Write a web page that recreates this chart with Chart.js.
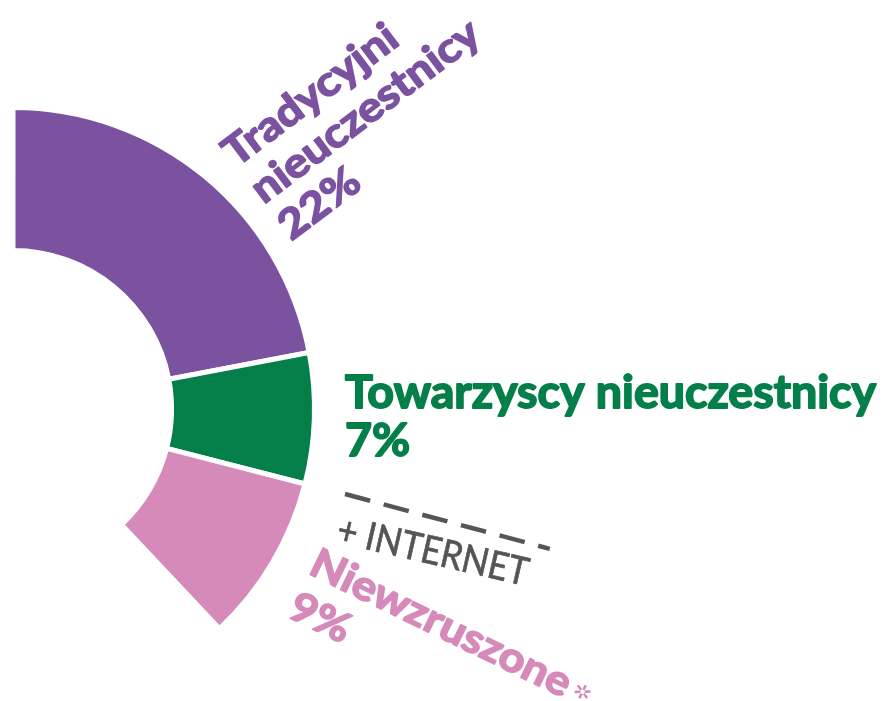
<!DOCTYPE html>
<html><head><meta charset="utf-8">
<script src="https://cdn.jsdelivr.net/npm/chart.js@4.4.1/dist/chart.umd.min.js"></script>
<style>html,body{margin:0;padding:0;background:#fff;overflow:hidden}canvas{display:block}</style>
</head><body>
<canvas id="c" width="884" height="701"></canvas>
<script>
// ---- data ----
const categories = ['Tradycyjni nieuczestnicy', 'Towarzyscy nieuczestnicy', 'Niewzruszone', 'Pozostali'];
const values = [22, 7, 9, 62];
const labelLines = [['Tradycyjni', 'nieuczestnicy'], ['Towarzyscy nieuczestnicy'], ['Niewzruszone']];
const noteText = '+ INTERNET';
const footnoteMark = '\u2732';

// ---- styles ----
const colors = ['#7B52A0', '#047F4A', '#D58ABA', 'rgba(0,0,0,0)'];
const grey = '#555555';
const labelStyles = [
  {x: 236, y: 168, angle: -37, size: 41, weight: 'bold', lh: 46, fitLine: 1, target: 275, stroke: 1.6},
  {x: 345, y: 408, angle: 0, size: 45, weight: 'bold', lh: 48, fitLine: 0, target: 531, stroke: 1.8},
  {x: 307, y: 573, angle: 26, size: 41, weight: 'bold', lh: 48, fitLine: 0, target: 285, stroke: 1.6}
];
const noteStyle = {x: 335, y: 542, angle: 13, size: 39, weight: 'normal', target: 195, stroke: 0.7};
const dashStyle = {x: 345, y: 494, angle: 15, length: 212, dash: [26, 14], width: 4.5};
const FONT = 'Lato, "Open Sans", sans-serif';

function fitScale(ctx, text, target) {
  const w = ctx.measureText(text).width;
  return w > 0 ? target / w : 1;
}
function boldText(ctx, t, x, y, sw) {
  ctx.fillText(t, x, y);
  if (sw > 0) { ctx.lineWidth = sw; ctx.lineJoin = 'round'; ctx.strokeText(t, x, y); }
}

const labelPlugin = {
  id: 'labels',
  afterDraw(chart) {
    const ctx = chart.ctx;
    ctx.save();
    ctx.textAlign = 'left';
    ctx.textBaseline = 'alphabetic';
    labelStyles.forEach((s, i) => {
      const lines = [...labelLines[i], values[i] + '%'];
      ctx.save();
      ctx.translate(s.x, s.y);
      ctx.rotate(s.angle * Math.PI / 180);
      ctx.font = `${s.weight} ${s.size}px ${FONT}`;
      ctx.fillStyle = colors[i];
      ctx.strokeStyle = colors[i];
      const sc = fitScale(ctx, lines[s.fitLine], s.target);
      lines.forEach((t, k) => {
        ctx.save();
        ctx.translate(0, k * s.lh);
        ctx.scale(sc, 1);
        boldText(ctx, t, 0, 0, s.stroke);
        if (i === 2 && k === 0) {
          const w = ctx.measureText(t).width;
          ctx.font = `bold 20px "DejaVu Sans"`;
          ctx.textBaseline = 'middle';
          ctx.fillText(footnoteMark, w + 5, -12);
          ctx.textBaseline = 'alphabetic';
          ctx.font = `${s.weight} ${s.size}px ${FONT}`;
        }
        ctx.restore();
      });
      ctx.restore();
    });
    // + INTERNET
    ctx.save();
    ctx.translate(noteStyle.x, noteStyle.y);
    ctx.rotate(noteStyle.angle * Math.PI / 180);
    ctx.font = `${noteStyle.weight} ${noteStyle.size}px ${FONT}`;
    ctx.fillStyle = grey;
    ctx.strokeStyle = grey;
    const nsc = fitScale(ctx, noteText, noteStyle.target);
    ctx.scale(nsc, 1);
    boldText(ctx, noteText, 0, 0, noteStyle.stroke);
    ctx.restore();
    // dashed line
    ctx.save();
    ctx.translate(dashStyle.x, dashStyle.y);
    ctx.rotate(dashStyle.angle * Math.PI / 180);
    ctx.strokeStyle = grey;
    ctx.lineWidth = dashStyle.width;
    ctx.setLineDash(dashStyle.dash);
    ctx.beginPath();
    ctx.moveTo(0, 0);
    ctx.lineTo(dashStyle.length, 0);
    ctx.stroke();
    ctx.restore();
    ctx.restore();
  }
};

new Chart(document.getElementById('c'), {
  type: 'doughnut',
  data: {
    labels: categories,
    datasets: [{
      data: values,
      backgroundColor: colors,
      borderColor: '#ffffff',
      borderWidth: [5, 5, 5, 0],
      hoverOffset: 0,
      clip: false
    }]
  },
  options: {
    responsive: false,
    animation: false,
    events: [],
    rotation: 0,
    radius: 301.5,
    cutout: '52.6%',
    layout: {padding: {left: 0, right: 858, top: 117, bottom: 0}},
    plugins: {legend: {display: false}, tooltip: {enabled: false}}
  },
  plugins: [labelPlugin]
});
</script>
</body></html>
